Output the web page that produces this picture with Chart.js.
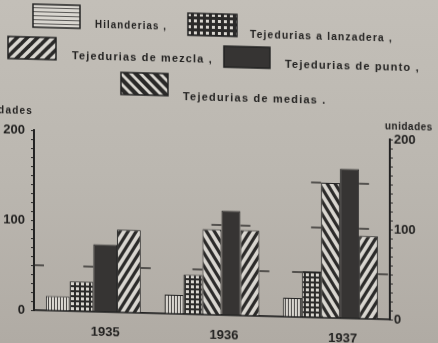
<!DOCTYPE html>
<html><head><meta charset="utf-8">
<script src="https://cdn.jsdelivr.net/npm/chart.js@4.4.1/dist/chart.umd.min.js"></script>
<style>
html,body{margin:0;padding:0;width:438px;height:343px;overflow:hidden;
background:linear-gradient(180deg,#c3bfb8 0%,#bbb7b0 50%,#b0aba4 100%);}
#wrap{position:absolute;left:0;top:0;width:438px;height:343px;transform:skewY(1.5deg);transform-origin:219px 171.5px;}
canvas{display:block}
</style></head><body>
<div id="wrap"><canvas id="c" width="438" height="343"></canvas></div>
<script>
// ---- data ----
const categories = ['1935', '1936', '1937'];
const hilanderias = [16, 21, 21];
const lanzadera = [33, 44, 51];
const medias = [null, 95, 150];
const punto = [75, 116, 166];
const mezcla = [92, 95, 92];
const yTickLabels = [0, 100, 200];
const markLevels = [50, 100, 150];
const axisTitle = 'unidades';
const legendTexts = ['Hilanderias ,', 'Tejedurias a lanzadera ,', 'Tejedurias de mezcla ,', 'Tejedurias de punto ,', 'Tejedurias de medias .'];

// ---- styling ----
const LIGHT = '#d9d6d0', DARK = '#2b2a29', INK = '#232221';
const canvas = document.getElementById('c');
const ctx0 = canvas.getContext('2d');
function tile(w, h, draw) { const c = document.createElement('canvas'); c.width = w; c.height = h; const g = c.getContext('2d'); draw(g, w, h); return ctx0.createPattern(c, 'repeat'); }
function diag(w, h, lw, up) {
  return tile(w, h, (g) => {
    g.fillStyle = LIGHT; g.fillRect(0, 0, w, h);
    g.strokeStyle = DARK; g.lineWidth = lw;
    for (let o = -2 * w; o <= 2 * w; o += w) {
      g.beginPath();
      if (up) { g.moveTo(o - w, 2 * h); g.lineTo(o + 2 * w, -h); }
      else { g.moveTo(o - w, -h); g.lineTo(o + 2 * w, 2 * h); }
      g.stroke();
    }
  });
}
const patVStripe = tile(3, 1, (g) => { g.fillStyle = LIGHT; g.fillRect(0, 0, 3, 1); g.fillStyle = '#4a4846'; g.fillRect(0, 0, 1, 1); });
const patHStripe = tile(1, 4, (g) => { g.fillStyle = LIGHT; g.fillRect(0, 0, 1, 4); g.fillStyle = '#5a5856'; g.fillRect(0, 0, 1, 1); });
const patGrid = tile(5, 5, (g) => { g.fillStyle = DARK; g.fillRect(0, 0, 5, 5); g.fillStyle = LIGHT; g.fillRect(1, 1, 3, 3); });
const patGridLeg = tile(6, 6, (g) => { g.fillStyle = DARK; g.fillRect(0, 0, 6, 6); g.fillStyle = LIGHT; g.fillRect(2, 2, 3, 3); });
const patMezcla = diag(8, 13, 3.2, true);
const patMedias = diag(8, 13, 3.2, false);
const patMezclaLeg = diag(10, 10, 3.6, true);
const patMediasLeg = diag(10, 10, 4.2, false);
const SOLID = '#363433';

const datasets = [
  { label: legendTexts[0], data: hilanderias, backgroundColor: patVStripe, legendFill: patHStripe },
  { label: legendTexts[1], data: lanzadera, backgroundColor: patGrid, legendFill: patGridLeg },
  { label: legendTexts[4], data: medias, backgroundColor: patMedias, legendFill: patMediasLeg },
  { label: legendTexts[3], data: punto, backgroundColor: SOLID, legendFill: SOLID },
  { label: legendTexts[2], data: mezcla, backgroundColor: patMezcla, legendFill: patMezclaLeg }
].map(d => Object.assign(d, { borderColor: '#222', borderWidth: 1, skipNull: true, categoryPercentage: 0.8, barPercentage: 1.0 }));

// legend layout (label index -> dataset index)
const legendLayout = [
  { ds: 0, txt: 0, sw: [33, 9, 47, 23], tx: 95, ty: 27.5, tw: 72 },
  { ds: 1, txt: 1, sw: [188, 14, 49, 22], tx: 250, ty: 34, tw: 143 },
  { ds: 4, txt: 2, sw: [8, 42, 48, 22], tx: 72, ty: 60, tw: 141 },
  { ds: 3, txt: 3, sw: [224, 46, 46, 21], tx: 285, ty: 62.5, tw: 135 },
  { ds: 2, txt: 4, sw: [121, 75, 47, 22], tx: 183, ty: 98, tw: 145 }
];

const decor = {
  id: 'decor',
  afterDatasetsDraw(chart) {
    const ctx = chart.ctx, ys = chart.scales.y, area = chart.chartArea;
    ctx.save();
    ctx.strokeStyle = '#2a2928'; ctx.lineWidth = 1.4;
    const seg = (x1, x2, y) => { ctx.beginPath(); ctx.moveTo(x1, y); ctx.lineTo(x2, y); ctx.stroke(); };
    seg(area.left, area.left + 10, ys.getPixelForValue(markLevels[0]));
    categories.forEach((c, i) => {
      const bars = [];
      chart.data.datasets.forEach((ds, d) => {
        const v = ds.data[i]; if (v == null) return;
        const el = chart.getDatasetMeta(d).data[i];
        bars.push({ v, l: el.x - el.width / 2, r: el.x + el.width / 2 });
      });
      bars.sort((a, b) => a.l - b.l);
      markLevels.forEach(L => {
        const runs = []; let run = null;
        bars.forEach(b => {
          if (b.v >= L) { if (run) run.r = b.r; else run = { l: b.l, r: b.r }; }
          else if (run) { runs.push(run); run = null; }
        });
        if (run) runs.push(run);
        const y = ys.getPixelForValue(L);
        runs.forEach(r => { seg(r.l - 10, r.l, y); seg(r.r, r.r + 10, y); });
      });
    });
    ctx.restore();
  },
  afterDraw(chart) {
    const ctx = chart.ctx;
    ctx.save();
    legendLayout.forEach(it => {
      const ds = chart.data.datasets[it.ds];
      const [x, y, w, h] = it.sw;
      ctx.fillStyle = ds.legendFill; ctx.fillRect(x, y, w, h);
      ctx.strokeStyle = '#222'; ctx.lineWidth = 1.5; ctx.strokeRect(x, y, w, h);
      ctx.fillStyle = INK; ctx.font = 'bold 11px "Liberation Sans"'; ctx.letterSpacing = '1.2px';
      ctx.textBaseline = 'middle'; ctx.textAlign = 'left';
      ctx.fillText(legendTexts[it.txt], it.tx, it.ty, it.tw);
    });
    ctx.font = 'bold 10px "Liberation Sans"'; ctx.letterSpacing = '1.2px';
    ctx.textAlign = 'right'; ctx.fillText(axisTitle, 33, 116);
    ctx.letterSpacing = '0.5px';
    ctx.textAlign = 'left'; ctx.fillText(axisTitle, 385, 122);
    ctx.restore();
  }
};

const tickFont = { family: 'Liberation Sans', size: 13, weight: 'bold' };
function yAxis(pos, width, pad) {
  return {
    type: 'linear', position: pos, min: 0, max: 200,
    afterFit(s) { s.width = width; },
    ticks: { stepSize: 10, autoSkip: false, font: tickFont, color: INK, padding: pad,
      callback: v => yTickLabels.includes(v) ? String(v) : '' },
    grid: { drawOnChartArea: false, drawTicks: true, tickLength: 3, color: '#2a2928', tickWidth: 1.2 },
    border: { display: true, color: '#222', width: 2 }
  };
}

new Chart(canvas, {
  type: 'bar',
  data: { labels: categories, datasets },
  options: {
    responsive: false, animation: false, devicePixelRatio: 1,
    layout: { padding: { top: 135, left: 0, right: 0, bottom: 0 } },
    plugins: { legend: { display: false }, tooltip: { enabled: false } },
    scales: {
      x: {
        afterFit(s) { s.height = 28; },
        ticks: { font: tickFont, color: INK, padding: 13, labelOffset: 12 },
        grid: { display: true, drawOnChartArea: false, drawTicks: false },
        border: { display: true, color: '#222', width: 1.8 }
      },
      y: yAxis('left', 34, 6),
      y2: yAxis('right', 48, 1)
    }
  },
  plugins: [decor]
});
</script>
</body></html>
